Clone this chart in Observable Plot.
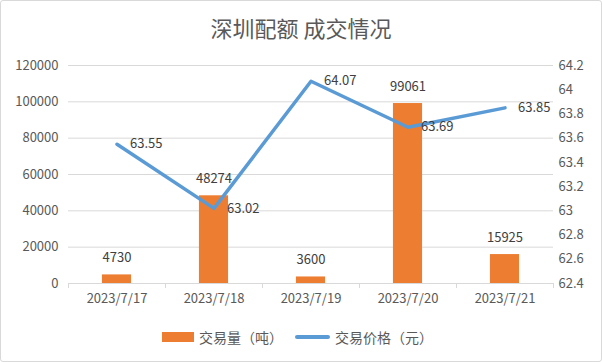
<!DOCTYPE html>
<html><head><meta charset="utf-8">
<script src="https://cdn.jsdelivr.net/npm/d3@7"></script>
<script src="https://cdn.jsdelivr.net/npm/@observablehq/plot@0.6"></script>
<style>
body{margin:0;background:#fff;font-family:"Noto Sans CJK SC","Noto Sans",sans-serif;}
#chart{position:relative;width:602px;height:362px;overflow:hidden;background:#fff;}
#frame{position:absolute;left:0;top:0;width:602px;height:362px;box-sizing:border-box;border:1px solid #d9d9d9;border-radius:3px;pointer-events:none;}
#title{position:absolute;top:11px;left:0;width:602px;text-align:center;font-size:22px;color:#595959;line-height:32px;}
#plot{position:absolute;top:50px;left:0;}
.leg{position:absolute;font-size:14px;color:#595959;line-height:20px;top:327px;white-space:nowrap;}
</style></head>
<body>
<div id="chart">
  <div id="title"></div>
  <div id="plot"></div>
  <div id="sw1" style="position:absolute;left:162px;top:332px;width:32px;height:10px;background:#ED7D31"></div>
  <div class="leg" id="lt1" style="left:199px"></div>
  <div id="sw2" style="position:absolute;left:295px;top:335px;width:35px;height:3.5px;background:#5B9BD5;border-radius:2px"></div>
  <div class="leg" id="lt2" style="left:335px"></div>
  <div id="frame"></div>
</div>
<script>
const title = "深圳配额 成交情况";
const seriesNames = ["交易量（吨）", "交易价格（元）"];
const dates = ["2023/7/17","2023/7/18","2023/7/19","2023/7/20","2023/7/21"];
const volumes = [4730, 48274, 3600, 99061, 15925];
const prices = [63.55, 63.02, 64.07, 63.69, 63.85];
const volumeTicks = [0, 20000, 40000, 60000, 80000, 100000, 120000];
const priceTicks = [62.4, 62.6, 62.8, 63, 63.2, 63.4, 63.6, 63.8, 64, 64.2];

document.getElementById("title").textContent = title;
document.getElementById("lt1").textContent = seriesNames[0];
document.getElementById("lt2").textContent = seriesNames[1];

const pMin = d3.min(priceTicks), pMax = d3.max(priceTicks);
const vMax = d3.max(volumeTicks);
const toV = p => (p - pMin) / (pMax - pMin) * vMax;
const fromV = v => pMin + v / vMax * (pMax - pMin);

const data = dates.map((d, i) => ({date: d, volume: volumes[i], price: prices[i], priceV: toV(prices[i])}));

const W = 602, ML = 68, MR = 49;
const step = (W - ML - MR) / dates.length;
const font = '"Noto Sans CJK SC","Noto Sans",sans-serif';

const chart = Plot.plot({
  width: W, height: 265,
  marginTop: 15, marginBottom: 32, marginLeft: ML, marginRight: MR,
  style: {fontFamily: font, fontSize: "13px", color: "#595959", background: "transparent", overflow: "visible"},
  x: {type: "band", domain: dates, padding: 0, label: null},
  y: {domain: [0, vMax], label: null},
  marks: [
    Plot.ruleY(volumeTicks.slice(1), {stroke: "#d9d9d9", strokeWidth: 1}),
    Plot.axisY({ticks: volumeTicks, tickSize: 0, tickPadding: 10, tickFormat: d3.format("d"), label: null, fill: "#595959"}),
    Plot.axisY({anchor: "right", ticks: priceTicks.map(toV), tickSize: 0, tickPadding: 5,
      tickFormat: v => String(+fromV(v).toFixed(1)), label: null, fill: "#595959"}),
    Plot.barY(data, {x: "date", y: "volume", fill: "#ED7D31", insetLeft: step * 0.35, insetRight: step * 0.35}),
    Plot.ruleY([0], {stroke: "#d9d9d9", strokeWidth: 1}),
    Plot.axisX({tickSize: 0, tickPadding: 10, label: null, fill: "#595959"}),
    Plot.axisX({tickSize: 5, tickFormat: () => "", dx: -step / 2, stroke: "#d9d9d9", label: null}),
    Plot.axisX({ticks: [dates[dates.length - 1]], tickSize: 5, tickFormat: () => "", dx: step / 2, stroke: "#d9d9d9", label: null}),
    Plot.line(data, {x: "date", y: "priceV", stroke: "#5B9BD5", strokeWidth: 3.5, strokeLinejoin: "round", strokeLinecap: "round"}),
    Plot.text(data, {x: "date", y: "volume", text: d => String(d.volume), dy: -17, fill: "#404040", fontSize: 13}),
    Plot.text(data, {x: "date", y: "priceV", text: d => d.price.toFixed(2), dx: 13, textAnchor: "start", fill: "#404040", fontSize: 13})
  ]
});
document.getElementById("plot").appendChild(chart);
</script>
</body></html>
